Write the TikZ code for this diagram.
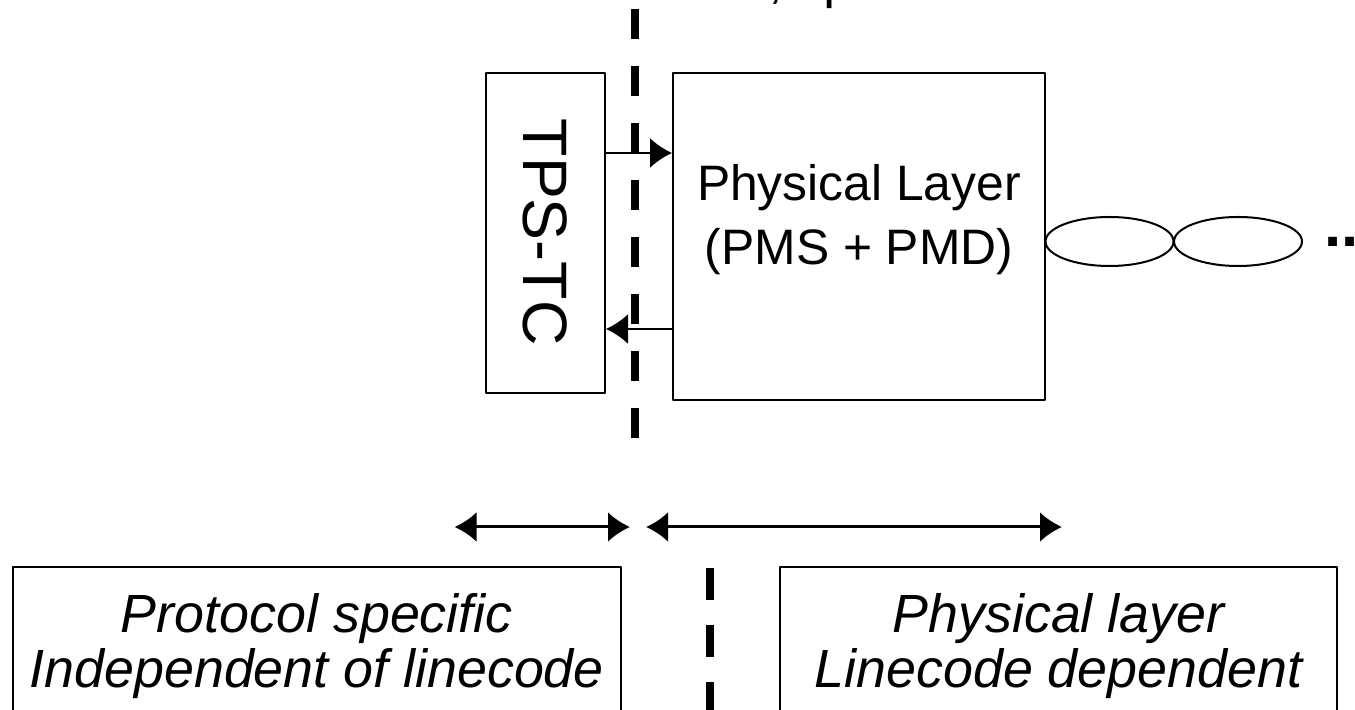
\documentclass[tikz,border=0pt]{standalone}
\usepackage{fontspec}
\setmainfont{Liberation Sans}
\usetikzlibrary{arrows.meta,shapes.geometric}
\begin{document}
\begin{tikzpicture}[>={Latex[length=11bp,width=15bp]},line join=bevel,
    box/.style={draw,rectangle,line width=1bp,inner sep=0pt},
    cut/.style={line width=4bp,dash pattern=on 15bp off 13.5bp},
    loop/.style={draw,ellipse,line width=1bp,inner sep=0pt,minimum width=64bp,minimum height=24.5bp},
    ]
        \useasboundingbox (0bp,0bp) rectangle (677.5bp,355bp);
        %%
        \node (iface) at (368.5bp,356.0bp) [anchor=base west,inner sep=0pt,font=\fontsize{27}{30}\selectfont] {α,\hspace{12.5bp} β};
        \node (tpstc) at (272.75bp,238.5bp) [box,minimum width=59.5bp,minimum height=160bp] {};
        \node (tpstclabel) at (272.5bp,239.0bp) [rotate=-90,inner sep=0pt,font=\fontsize{31.5}{36}\selectfont] {TPS-TC};
        \node (phy) at (429.5bp,236.75bp) [box,minimum width=186bp,minimum height=163.5bp] {};
        \node (phylabel) at (429.5bp,245.25bp) [align=center,inner sep=0pt,font=\fontsize{25}{32.5}\selectfont] {Physical Layer\\(PMS + PMD)};
        \node (loop1) at (554.75bp,234.25bp) [loop] {};
        \node (loop2) at (619.0bp,234.25bp) [loop] {};
        \node (more) at (662.0bp,231.5bp) [anchor=base west,inner sep=0pt,font=\bfseries\fontsize{31}{36}\selectfont] {...};
        \node (indep) at (158.4bp,30.75bp) [box,minimum width=304.2bp,minimum height=81.5bp] {};
        \node (indeplabel) at (158.4bp,32.0bp) [align=center,inner sep=0pt,font=\itshape\fontsize{27}{28}\selectfont] {Protocol specific\\Independent of linecode};
        \node (dep) at (529.25bp,30.75bp) [box,minimum width=278.5bp,minimum height=81.5bp] {};
        \node (deplabel) at (529.25bp,32.0bp) [align=center,inner sep=0pt,font=\itshape\fontsize{27}{28}\selectfont] {Physical layer\\Linecode dependent};
        \coordinate (tx) at (0bp,278.5bp);
        \coordinate (rx) at (0bp,190.5bp);
        \coordinate (cuttop) at (317.5bp,350.5bp);
        \coordinate (cutbot) at (317.5bp,136.0bp);
        \coordinate (septop) at (355.0bp,71.0bp);
        \coordinate (sepbot) at (355.0bp,-5.0bp);
        \coordinate (tcl) at (227.25bp,91.5bp);
        \coordinate (tcr) at (315.0bp,91.5bp);
        \coordinate (pml) at (323.0bp,91.5bp);
        \coordinate (pmr) at (531.0bp,91.5bp);
        \draw [->,line width=1bp] (tpstc.east |- tx) -- (phy.west |- tx);
        \draw [->,line width=1bp] (phy.west |- rx) -- (tpstc.east |- rx);
        \draw [cut] (cuttop) -- (cutbot);
        \draw [cut,dash pattern=on 16bp off 12.5bp] (septop) -- (sepbot);
        \draw [<->,line width=1.5bp] (tcl) -- (tcr);
        \draw [<->,line width=1.5bp] (pml) -- (pmr);
        %
    \end{tikzpicture}
\end{document}
